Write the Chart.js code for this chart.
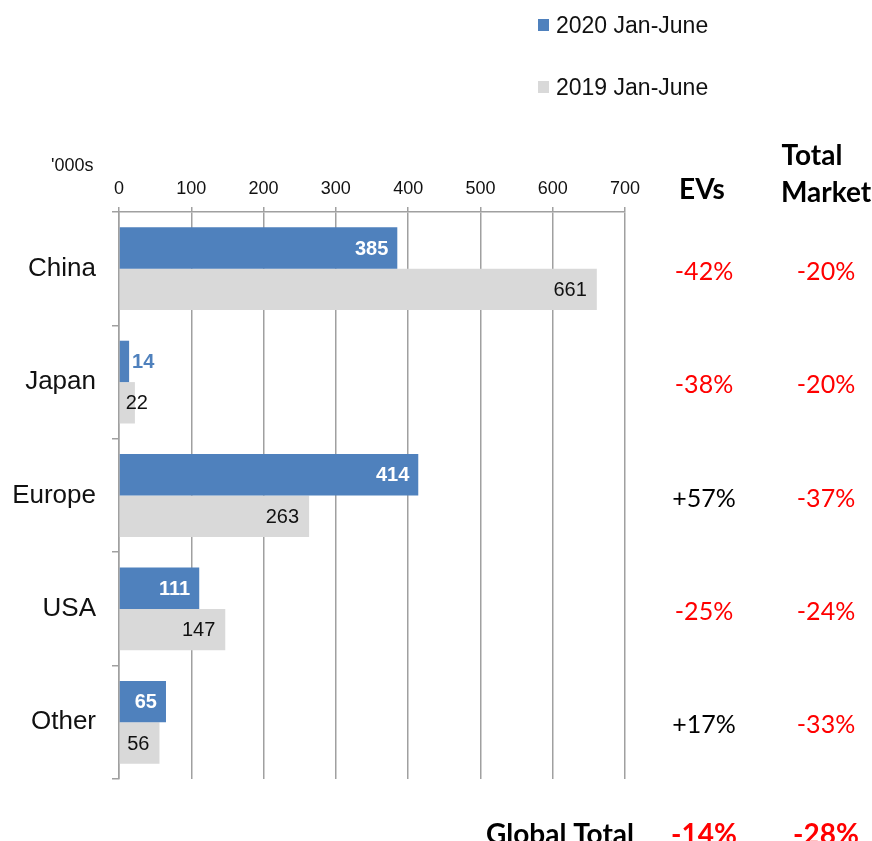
<!DOCTYPE html>
<html>
<head>
<meta charset="utf-8">
<script src="https://cdn.jsdelivr.net/npm/chart.js@4.4.1/dist/chart.umd.min.js"></script>
<style>
  body { margin: 0; background: #fff; }
  #wrap { width: 872px; height: 841px; position: relative; }
</style>
</head>
<body>
<div id="wrap"><canvas id="chart-area"></canvas></div>
<script>
// regions and sales ('000s)
const regions = ['China', 'Japan', 'Europe', 'USA', 'Other'];
const sales2020 = [385, 14, 414, 111, 65];
const sales2019 = [661, 22, 263, 147, 56];
const xTicks = [0, 100, 200, 300, 400, 500, 600, 700];
// year-on-year change columns
const evChange = ['-42%', '-38%', '+57%', '-25%', '+17%'];
const marketChange = ['-20%', '-20%', '-37%', '-24%', '-33%'];
const globalEv = '-14%';
const globalMarket = '-28%';

const colors = {
    blue: '#4f81bd',
    grey: '#d9d9d9',
    red: '#ff0000',
    axis: '#a0a0a0'
};
const calibri = 'Lato, "Open Sans", sans-serif';
const arial = '"Liberation Sans", Arial, sans-serif';

// value labels on the bars
const barLabels = {
    id: 'barLabels',
    afterDatasetsDraw(chart) {
        const ctx = chart.ctx;
        ctx.save();
        ctx.textBaseline = 'middle';
        chart.data.datasets.forEach((ds, di) => {
            const meta = chart.getDatasetMeta(di);
            meta.data.forEach((bar, i) => {
                const txt = String(ds.data[i]);
                const bold = di === 0;
                ctx.font = (bold ? 'bold ' : '') + '20px ' + arial;
                const w = ctx.measureText(txt).width;
                const len = bar.x - bar.base;
                let x, color;
                if (bold) {
                    if (len > w + 14) {
                        ctx.textAlign = 'right'; x = bar.x - 9; color = '#fff';
                    } else {
                        ctx.textAlign = 'left'; x = bar.x + 3; color = colors.blue;
                    }
                } else {
                    if (len > w + 14) {
                        ctx.textAlign = 'right'; x = bar.x - 10;
                    } else {
                        ctx.textAlign = 'left'; x = bar.base + 6;
                    }
                    color = '#111';
                }
                ctx.fillStyle = color;
                ctx.fillText(txt, x, bar.y + 1);
            });
        });
        ctx.restore();
    }
};

// legend, unit note and the change columns on the right
const extras = {
    id: 'extras',
    afterDraw(chart) {
        const ctx = chart.ctx;
        const y = chart.scales.y;
        ctx.save();
        ctx.textBaseline = 'middle';

        // legend
        ctx.font = '23px ' + arial;
        ctx.textAlign = 'left';
        [[colors.blue, '2020 Jan-June', 25], [colors.grey, '2019 Jan-June', 87]].forEach(([c, t, ly]) => {
            ctx.fillStyle = c;
            ctx.fillRect(538, ly - 6, 11, 12);
            ctx.fillStyle = '#111';
            ctx.fillText(t, 556, ly + 2);
        });

        ctx.font = '18px ' + arial;
        ctx.fillText("'000s", 51, 166);

        // column headers
        ctx.font = 'bold 28px ' + calibri;
        ctx.textAlign = 'center';
        ctx.fillStyle = '#000';
        ctx.fillText('EVs', 702, 190);
        ctx.fillText('Total', 812, 156);
        ctx.fillText('Market', 826, 193);

        ctx.font = '25px ' + calibri;
        regions.forEach((r, i) => {
            const py = y.getPixelForValue(i) + 3;
            ctx.fillStyle = evChange[i][0] === '-' ? colors.red : '#000';
            ctx.fillText(evChange[i], 704, py);
            ctx.fillStyle = marketChange[i][0] === '-' ? colors.red : '#000';
            ctx.fillText(marketChange[i], 826, py);
        });

        // global totals row
        ctx.textBaseline = 'alphabetic';
        ctx.font = 'bold 28px ' + calibri;
        ctx.fillStyle = '#000';
        ctx.textAlign = 'right';
        ctx.fillText('Global Total', 634, 844);
        ctx.textAlign = 'center';
        ctx.fillStyle = colors.red;
        ctx.fillText(globalEv, 704, 844);
        ctx.fillText(globalMarket, 826, 844);
        ctx.restore();
    }
};

new Chart(document.getElementById('chart-area'), {
    type: 'bar',
    data: {
        labels: regions,
        datasets: [{
            label: '2020 Jan-June',
            data: sales2020,
            backgroundColor: colors.blue,
            categoryPercentage: 0.73,
            barPercentage: 1.0
        }, {
            label: '2019 Jan-June',
            data: sales2019,
            backgroundColor: colors.grey,
            categoryPercentage: 0.73,
            barPercentage: 1.0
        }]
    },
    options: {
        indexAxis: 'y',
        animation: false,
        responsive: true,
        maintainAspectRatio: false,
        layout: { padding: { left: 0, top: 0, right: 247, bottom: 62 } },
        plugins: {
            legend: { display: false },
            tooltip: { enabled: false }
        },
        scales: {
            x: {
                position: 'top',
                min: 0,
                max: 700,
                afterBuildTicks: (s) => { s.ticks = xTicks.map(v => ({ value: v })); },
                afterFit: (s) => { s.height = 212; },
                grid: { color: colors.axis, lineWidth: 1.5, tickLength: 5 },
                border: { color: colors.axis, width: 1.5 },
                ticks: { color: '#111', font: { family: arial, size: 18 }, padding: 7, maxRotation: 0 }
            },
            y: {
                afterFit: (s) => { s.width = 119; },
                grid: { drawOnChartArea: false, offset: true, color: colors.axis, lineWidth: 1.5, tickLength: 7 },
                border: { color: colors.axis, width: 1.5 },
                ticks: { color: '#111', font: { family: arial, size: 26 }, padding: 16 }
            }
        }
    },
    plugins: [barLabels, extras]
});
</script>
</body>
</html>
